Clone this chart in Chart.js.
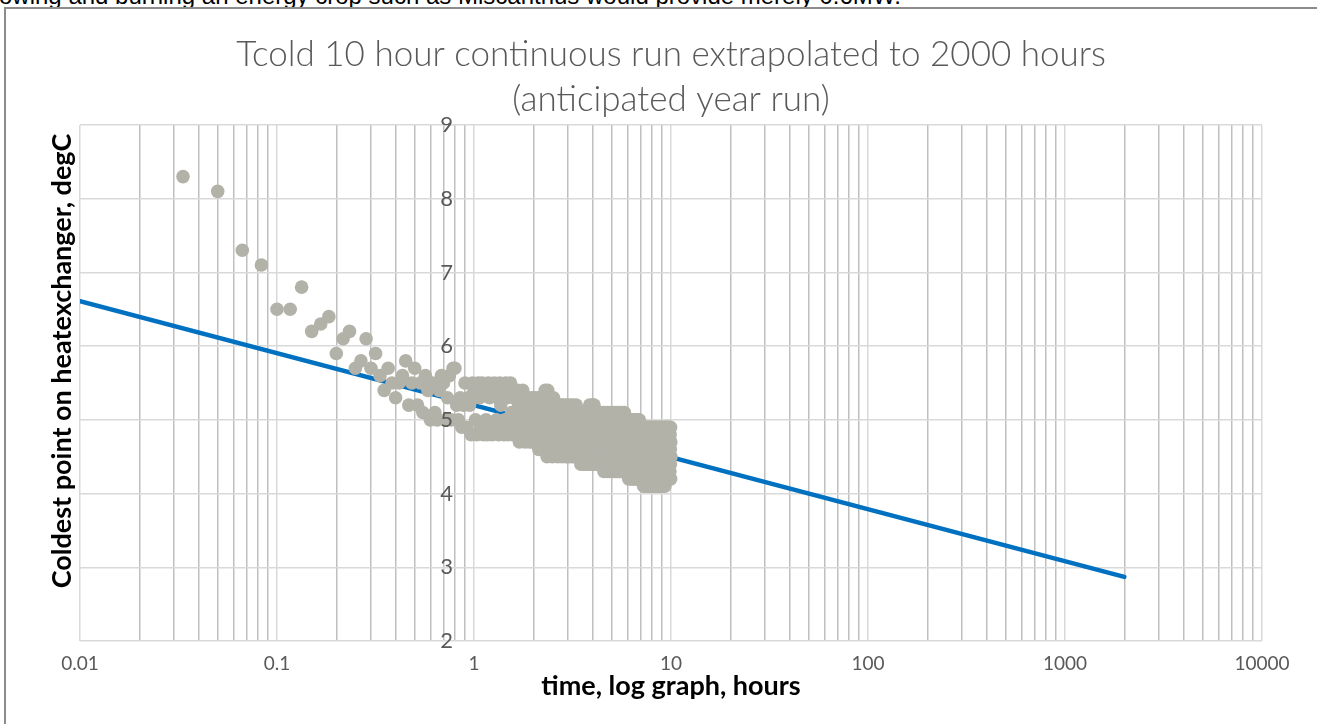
<!DOCTYPE html>
<html>
<head>
<meta charset="utf-8">
<title>Tcold 10 hour run</title>
<script src="https://cdn.jsdelivr.net/npm/chart.js@4.4.1/dist/chart.umd.min.js"></script>
<style>
  html, body { margin: 0; padding: 0; background: #fff; overflow: hidden; }
  body { width: 1317px; height: 724px; position: relative; }
  .doc-line {
    position: absolute; left: -1px; top: -16px;
    font: 24px "Liberation Sans", Arial, sans-serif; color: #000;
    white-space: nowrap; line-height: 24px;
  }
  .frame {
    position: absolute; left: 4px; top: 7px; width: 1400px; height: 800px;
    border-left: 2px solid #8c8c8c; border-top: 2px solid #8c8c8c;
  }
  #chartWrap { position: absolute; left: 0; top: 0; width: 1317px; height: 724px; }
</style>
</head>
<body>
<div class="doc-line">owing and burning an energy crop such as Miscanthus would provide merely 0.6MW.</div>
<div class="frame"></div>
<div id="chartWrap"><canvas id="tcoldChart" width="1317" height="724"></canvas></div>

<script>
// ===================================
// Data
// ===================================
// logger wrote one reading per minute, first one at minute 2
const FIRST_MINUTE = 2;

// coldest point on heat exchanger, degC (0.1 resolution)
const tempReadings = [
  8.3, 8.1, 7.3, 7.1, 6.5, 6.5, 6.8, 6.2, 6.3, 6.4, 5.9, 6.1, 6.2, 5.7, 5.8, 6.1, 5.7, 5.9, 5.6,
  5.4, 5.7, 5.5, 5.3, 5.5, 5.6, 5.8, 5.2, 5.5, 5.7, 5.2, 5.5, 5.1, 5.6, 5.4, 5.0, 5.5, 5.1, 5.0, 5.4,
  5.6, 5.5, 5.0, 5.3, 5.6, 5.0, 5.7, 5.7, 5.2, 5.0, 5.3, 4.9, 5.2, 5.5, 4.9, 5.3, 5.2, 4.8, 5.5, 5.4,
  // 1 - 2 h
  5.0, 4.8, 5.5, 5.3, 4.9, 5.5, 4.8, 5.4, 5.0, 4.8, 5.5, 5.3, 4.9, 4.8, 5.4, 5.5, 4.9, 5.0, 5.3, 4.8,
  5.5, 5.2, 4.9, 5.4, 4.8, 5.0, 5.5, 5.3, 4.8, 4.9, 5.4, 5.5, 5.1, 4.8, 5.3, 4.9, 5.4, 5.0, 4.8, 5.4,
  5.2, 4.7, 5.3, 5.1, 4.8, 5.4, 4.9, 5.2, 4.7, 5.3, 5.0, 4.8, 5.3, 5.1, 4.7, 5.2, 4.9, 5.3, 4.7, 5.0,
  // 2 - 3 h
  4.8, 5.3, 5.0, 4.7, 5.2, 4.9, 5.3, 4.6, 5.1, 4.8, 5.2, 4.7, 5.0, 5.3, 4.6, 4.9, 5.2, 5.4, 4.7, 5.1,
  4.5, 5.4, 5.0, 4.8, 5.3, 4.6, 5.1, 4.9, 5.2, 4.5, 5.0, 5.3, 4.7, 4.9, 5.2, 4.6, 5.0, 4.8, 5.2, 4.5,
  5.1, 4.7, 5.2, 4.9, 4.6, 5.0, 5.2, 4.5, 4.8, 5.1, 4.7, 5.2, 4.6, 4.9, 5.0, 4.5, 5.2, 4.8, 4.6, 5.1,
  // 3 - 4 h
  4.5, 5.0, 4.7, 5.2, 4.6, 4.9, 5.1, 4.5, 4.8, 5.2, 4.6, 5.0, 4.7, 4.5, 5.1, 4.8, 4.6, 5.2, 4.9, 4.5,
  5.0, 4.7, 5.1, 4.5, 4.8, 4.6, 5.1, 4.9, 4.4, 5.0, 4.7, 5.1, 4.5, 4.8, 4.6, 5.0, 4.4, 4.9, 5.1, 4.6,
  4.8, 4.4, 5.0, 4.7, 5.1, 4.5, 4.9, 4.6, 5.0, 4.4, 4.8, 5.2, 4.6, 4.9, 4.5, 5.0, 4.7, 4.4, 5.2, 4.8,
  // 4 - 5 h
  5.2, 4.5, 4.9, 5.2, 4.6, 4.4, 5.0, 4.8, 4.5, 5.1, 4.7, 4.4, 4.9, 5.1, 4.6, 4.8, 4.4, 5.0, 4.7, 4.5,
  5.1, 4.6, 4.9, 4.4, 4.8, 5.0, 4.5, 4.7, 5.1, 4.4, 4.9, 4.6, 5.0, 4.3, 4.8, 5.1, 4.5, 4.7, 4.9, 4.4,
  5.0, 4.6, 4.8, 4.3, 5.1, 4.5, 4.9, 4.7, 4.4, 5.0, 4.6, 4.8, 4.3, 5.1, 4.5, 4.9, 4.4, 4.7, 5.0, 4.6,
  // 5 - 6 h
  4.4, 5.1, 4.8, 4.3, 4.6, 5.0, 4.5, 4.9, 4.3, 4.7, 5.1, 4.4, 4.8, 4.6, 5.0, 4.3, 4.7, 4.9, 4.5, 5.1,
  4.6, 4.3, 4.8, 5.0, 4.4, 4.7, 4.9, 4.3, 5.1, 4.5, 4.8, 4.6, 5.0, 4.3, 4.7, 4.5, 4.9, 5.1, 4.4, 4.6,
  4.8, 4.3, 5.0, 4.6, 4.4, 4.9, 4.7, 5.1, 4.3, 4.5, 4.8, 5.0, 4.4, 4.6, 4.9, 4.3, 4.7, 5.0, 4.5, 4.8,
  // 6 - 7 h
  4.3, 5.0, 4.6, 4.4, 4.8, 4.2, 4.9, 4.5, 4.7, 5.0, 4.3, 4.6, 4.8, 4.4, 4.9, 4.2, 4.7, 5.0, 4.5, 4.6,
  4.8, 4.3, 4.9, 4.5, 4.2, 4.7, 5.0, 4.4, 4.6, 4.8, 4.2, 4.9, 4.5, 4.7, 4.3, 5.0, 4.6, 4.4, 4.8, 4.2,
  4.9, 4.5, 4.7, 4.3, 5.0, 4.6, 4.2, 4.8, 4.4, 4.9, 4.6, 4.3, 4.7, 5.0, 4.5, 4.2, 4.8, 4.4, 4.9, 4.6,
  // 7 - 8 h
  4.3, 4.8, 4.5, 4.9, 4.2, 4.7, 4.4, 4.9, 4.6, 4.2, 4.8, 4.5, 4.3, 4.9, 4.6, 4.1, 4.7, 4.4, 4.8, 4.2,
  4.6, 4.9, 4.3, 4.5, 4.8, 4.1, 4.7, 4.4, 4.9, 4.2, 4.6, 4.8, 4.3, 4.5, 4.9, 4.1, 4.7, 4.4, 4.6, 4.8,
  4.2, 4.5, 4.9, 4.3, 4.7, 4.1, 4.8, 4.4, 4.6, 4.9, 4.2, 4.5, 4.7, 4.3, 4.8, 4.1, 4.6, 4.9, 4.4, 4.2,
  // 8 - 9 h
  4.7, 4.5, 4.9, 4.2, 4.6, 4.8, 4.1, 4.4, 4.7, 4.9, 4.3, 4.5, 4.8, 4.1, 4.6, 4.2, 4.9, 4.4, 4.7, 4.3,
  4.5, 4.8, 4.1, 4.6, 4.9, 4.3, 4.7, 4.2, 4.5, 4.8, 4.4, 4.1, 4.6, 4.9, 4.3, 4.7, 4.2, 4.8, 4.5, 4.4,
  4.1, 4.6, 4.9, 4.3, 4.7, 4.2, 4.8, 4.5, 4.1, 4.6, 4.9, 4.4, 4.2, 4.7, 4.5, 4.8, 4.3, 4.1, 4.6, 4.9,
  // 9 - 10 h
  4.4, 4.2, 4.7, 4.5, 4.8, 4.1, 4.6, 4.9, 4.3, 4.5, 4.7, 4.2, 4.8, 4.4, 4.6, 4.9, 4.3, 4.1, 4.7, 4.5,
  4.8, 4.2, 4.6, 4.4, 4.9, 4.3, 4.7, 4.5, 4.2, 4.8, 4.6, 4.4, 4.9, 4.3, 4.7, 4.2, 4.5, 4.8, 4.4, 4.6,
  4.9, 4.3, 4.7, 4.2, 4.5, 4.8, 4.4, 4.6, 4.9, 4.2, 4.7, 4.3, 4.5, 4.8, 4.6, 4.4, 4.9, 4.2, 4.7, 4.5,
];

// log trendline, extrapolated out to 2000 h
const trendHours = [0.01, 2000];
const trendTemps = [6.61, 2.87];

// axes
const xDecades = [0.01, 0.1, 1, 10, 100, 1000, 10000];
const xMinorSteps = [2, 3, 4, 5, 6, 7, 8, 9];
const yTicks = [2, 3, 4, 5, 6, 7, 8, 9];
const Y_AXIS_CROSSES_AT = 1; // vertical axis sits at 1 hour

const TITLE = ["Tcold 10 hour continuous run extrapolated to 2000 hours", "(anticipated year run)"];
const X_TITLE = "time, log graph, hours";
const Y_TITLE = "Coldest point on heatexchanger, degC";

// ===================================
// Build chart
// ===================================
const FONT = "Lato, 'Open Sans', sans-serif";
const TICK_COLOR = "#595959";

const scatterPoints = tempReadings.map((t, i) => ({ x: (FIRST_MINUTE + i) / 60, y: t }));
const trendPoints = trendHours.map((h, i) => ({ x: h, y: trendTemps[i] }));

// gridline positions for the log axis: 1..9 x each decade
const xTickValues = [];
xDecades.forEach((d, i) => {
  xTickValues.push(d);
  if (i < xDecades.length - 1) {
    xMinorSteps.forEach((m) => xTickValues.push(+(d * m).toPrecision(6)));
  }
});

function isDecade(v) {
  return xDecades.some((d) => Math.abs(d - v) < d * 1e-6);
}

// y tick labels next to the crossing axis + y title at far left (Excel style)
const yAxisDecor = {
  id: "yAxisDecor",
  afterDatasetsDraw(chart) {
    const ctx = chart.ctx;
    const xs = chart.scales.x;
    const ys = chart.scales.y;
    const axisX = xs.getPixelForValue(Y_AXIS_CROSSES_AT);

    ctx.save();
    ctx.font = "22px " + FONT;
    ctx.fillStyle = TICK_COLOR;
    ctx.textAlign = "right";
    ctx.textBaseline = "middle";
    yTicks.forEach((v) => {
      ctx.fillText(String(v), axisX - 21, ys.getPixelForValue(v));
    });
    ctx.restore();

    ctx.save();
    ctx.translate(62, 361);
    ctx.rotate(-Math.PI / 2);
    ctx.font = "bold 27px " + FONT;
    ctx.fillStyle = "#000";
    ctx.textAlign = "center";
    ctx.textBaseline = "middle";
    ctx.fillText(Y_TITLE, 0, 0);
    ctx.restore();
  },
};

const ctx = document.getElementById("tcoldChart").getContext("2d");
new Chart(ctx, {
  type: "scatter",
  data: {
    datasets: [
      {
        label: "Tcold",
        data: scatterPoints,
        backgroundColor: "#b2b2a9",
        borderWidth: 0,
        pointRadius: 6.8,
        pointHoverRadius: 6.8,
      },
      {
        label: "Log trend",
        data: trendPoints,
        showLine: true,
        borderColor: "#0070c0",
        borderWidth: 4.5,
        borderCapStyle: "round",
        pointRadius: 0,
        fill: false,
      },
    ],
  },
  options: {
    responsive: false,
    animation: false,
    devicePixelRatio: 1,
    layout: {
      padding: { left: 80, right: 55, top: 0, bottom: 24 },
    },
    plugins: {
      legend: { display: false },
      tooltip: { enabled: false },
      title: {
        display: true,
        text: TITLE,
        color: TICK_COLOR,
        font: { family: FONT, size: 35, weight: "300", lineHeight: "45px" },
        padding: { top: 32, bottom: 3 },
      },
    },
    scales: {
      x: {
        type: "logarithmic",
        min: 0.01,
        max: 10000,
        afterBuildTicks: (scale) => {
          scale.ticks = xTickValues.map((v) => ({ value: v }));
        },
        afterFit: (scale) => {
          scale.height = 59;
        },
        border: { display: false },
        grid: {
          drawTicks: false,
          lineWidth: 1.5,
          color: (c) => (c.tick && isDecade(c.tick.value) ? "#d9d9d9" : "#bfbfbf"),
        },
        ticks: {
          autoSkip: false,
          maxRotation: 0,
          padding: 11,
          color: TICK_COLOR,
          font: { family: FONT, size: 19 },
          callback: (v) => (isDecade(v) ? String(v) : ""),
        },
        title: {
          display: true,
          text: X_TITLE,
          color: "#000",
          font: { family: FONT, size: 27, weight: "bold", lineHeight: 1 },
          padding: { top: 0, bottom: 0 },
        },
      },
      y: {
        type: "linear",
        min: 2,
        max: 9,
        position: { x: Y_AXIS_CROSSES_AT },
        afterBuildTicks: (scale) => {
          scale.ticks = yTicks.map((v) => ({ value: v }));
        },
        border: { display: false },
        grid: {
          drawTicks: false,
          lineWidth: 1.5,
          color: "#d9d9d9",
        },
        ticks: { display: false },
      },
    },
  },
  plugins: [yAxisDecor],
});
</script>
</body>
</html>
